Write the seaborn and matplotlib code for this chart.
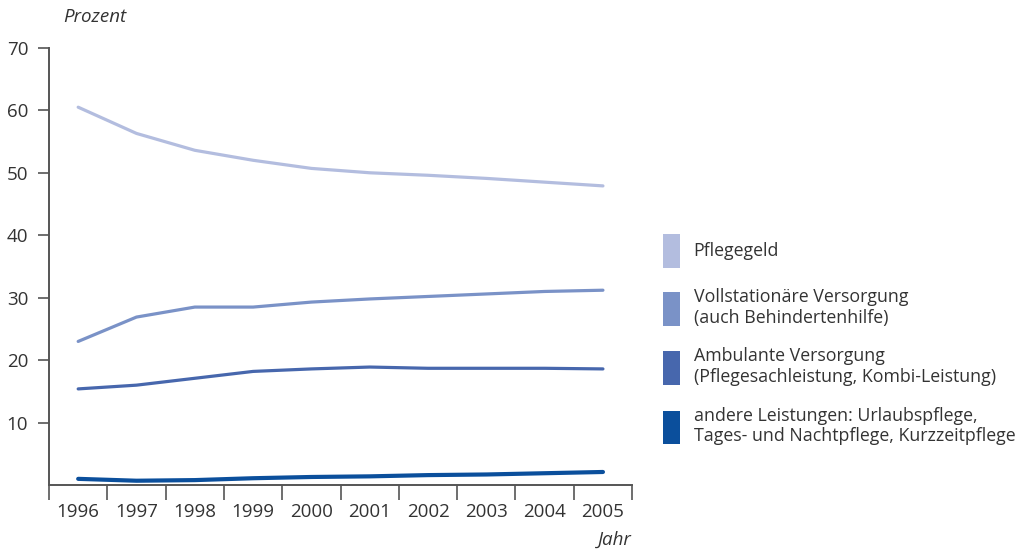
import pandas as pd
import matplotlib.pyplot as plt
import seaborn as sns
from matplotlib.patches import Patch

years = ["1996", "1997", "1998", "1999", "2000", "2001", "2002", "2003", "2004", "2005"]
series_names = [
    "Pflegegeld",
    "Vollstationäre Versorgung\n(auch Behindertenhilfe)",
    "Ambulante Versorgung\n(Pflegesachleistung, Kombi-Leistung)",
    "andere Leistungen: Urlaubspflege,\nTages- und Nachtpflege, Kurzzeitpflege",
]
pflegegeld = [60.5, 56.3, 53.6, 52.0, 50.7, 50.0, 49.6, 49.1, 48.5, 47.9]
vollstationaer = [23.0, 26.9, 28.5, 28.5, 29.3, 29.8, 30.2, 30.6, 31.0, 31.2]
ambulant = [15.4, 16.0, 17.1, 18.2, 18.6, 18.9, 18.7, 18.7, 18.7, 18.6]
andere = [1.0, 0.7, 0.8, 1.1, 1.3, 1.4, 1.6, 1.7, 1.9, 2.1]
colors = ["#b3bddf", "#7a92c7", "#4767ad", "#0b4f9c"]
y_ticks = [10, 20, 30, 40, 50, 60, 70]


def main():
    values = [pflegegeld, vollstationaer, ambulant, andere]
    rows = []
    for name, vals in zip(series_names, values):
        for i, v in enumerate(vals):
            rows.append({"pos": i, "anteil": v, "reihe": name})
    df = pd.DataFrame(rows)

    sns.set_theme(style="white")
    plt.rcParams['font.family'] = ['Open Sans', 'DejaVu Sans']

    fig = plt.figure(figsize=(10.32, 5.5), dpi=100)
    ax = fig.add_axes([0.0475, 0.118, 0.565, 0.795])

    sns.lineplot(data=df, x="pos", y="anteil", hue="reihe",
                 hue_order=series_names, palette=colors, ax=ax,
                 legend=False, linewidth=2.3)
    # last line a bit heavier
    ax.lines[-1].set_linewidth(3.0)

    ax.set_xlim(-0.5, 9.5)
    ax.set_ylim(0, 70)
    ax.set_yticks(y_ticks)
    ax.set_yticklabels([str(t) for t in y_ticks])
    ax.set_xticks([i - 0.5 for i in range(11)])
    ax.set_xticklabels([])
    ax.set_xticks(range(10), minor=True)
    ax.set_xticklabels(years, minor=True)

    for side in ["top", "right"]:
        ax.spines[side].set_visible(False)
    for side in ["left", "bottom"]:
        ax.spines[side].set_color("#555555")
        ax.spines[side].set_linewidth(1.4)

    ax.tick_params(axis="y", which="major", direction="out", length=8, width=1.2,
                   color="#555555", labelsize=13.5, labelcolor="#333333", pad=7, left=True)
    ax.tick_params(axis="x", which="major", direction="out", length=11, width=1.2,
                   color="#555555", pad=2, bottom=True)
    ax.tick_params(axis="x", which="minor", length=0, labelsize=13.5,
                   labelcolor="#333333", pad=13)
    ax.set_xlabel("")
    ax.set_ylabel("")
    ax.grid(False)

    fig.text(0.061, 0.97, "Prozent", style="italic", fontsize=13.5,
             color="#333333", ha="left", va="center")
    fig.text(0.612, 0.018, "Jahr", style="italic", fontsize=13.5,
             color="#333333", ha="right", va="center")

    handles = [Patch(facecolor=c, edgecolor="none") for c in colors]
    fig.legend(handles, series_names, loc="upper left",
               bbox_to_anchor=(0.642, 0.575), frameon=False,
               handlelength=1.0, handleheight=2.55, handletextpad=0.75,
               labelspacing=1.15, fontsize=12.8, labelcolor="#333333",
               borderaxespad=0, borderpad=0)

    fig.savefig("out.png", dpi=100)
    plt.close(fig)


if __name__ == '__main__':
    main()
